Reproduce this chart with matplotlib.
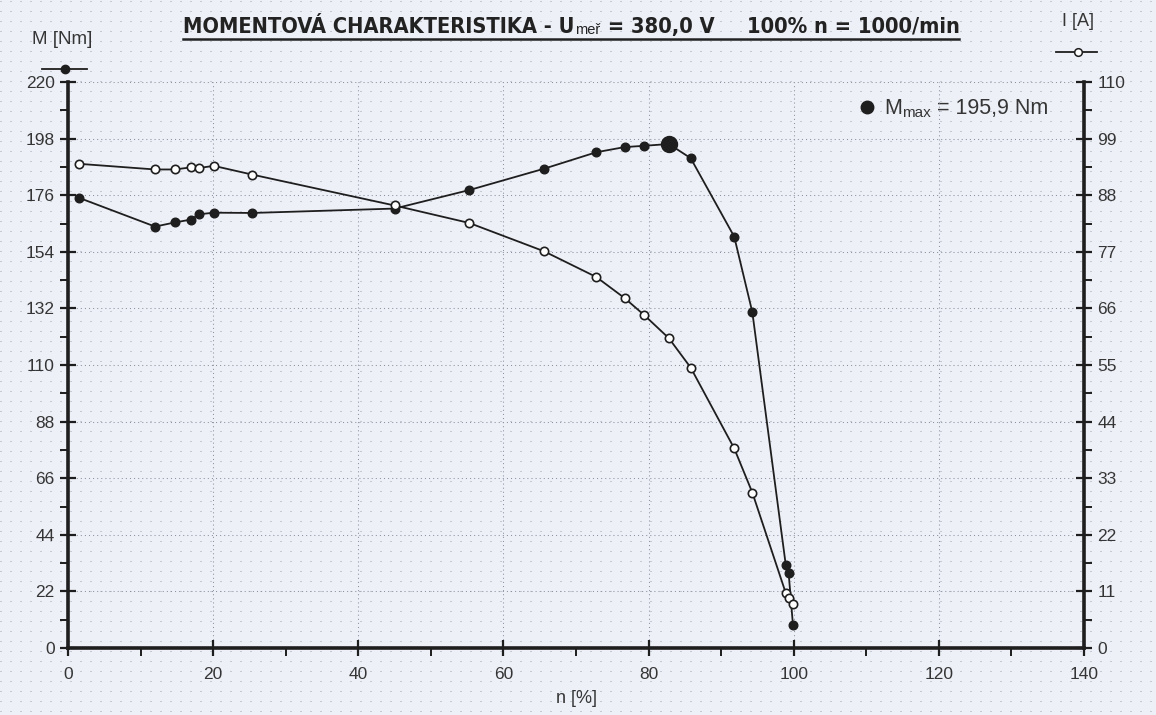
import matplotlib
matplotlib.use('Agg')
import matplotlib.pyplot as plt
from matplotlib import font_manager as fm
from matplotlib.ticker import MultipleLocator, FixedLocator
import numpy as np

# ---------------- data ----------------
n_pct = [1.5, 12.0, 14.7, 16.9, 18.1, 20.1, 25.4, 45.0, 55.3, 65.6,
         72.8, 76.7, 79.4, 82.8, 85.8, 91.8, 94.3, 98.9, 99.3, 99.9]
torque_nm = [175.0, 163.8, 165.4, 166.5, 168.6, 169.2, 169.1, 170.8, 178.0, 186.3,
             192.7, 194.7, 195.2, 195.9, 190.4, 159.9, 130.5, 32.4, 29.1, 8.8]
current_a = [94.1, 93.0, 93.0, 93.4, 93.3, 93.7, 92.0, 86.0, 82.6, 77.1,
             72.1, 68.0, 64.7, 60.2, 54.5, 38.8, 30.2, 10.7, 9.8, 8.6]
m_max_n = 82.8
m_max_val = 195.9

x_ticks = [0, 20, 40, 60, 80, 100, 120, 140]
m_ticks = [0, 22, 44, 66, 88, 110, 132, 154, 176, 198, 220]
i_ticks = [0, 11, 22, 33, 44, 55, 66, 77, 88, 99, 110]

# ---------------- fonts ----------------
avail = {f.name for f in fm.fontManager.ttflist}
base_font = 'Liberation Sans' if 'Liberation Sans' in avail else 'DejaVu Sans'
plt.rcParams['font.family'] = [base_font, 'DejaVu Sans']
plt.rcParams['lines.scale_dashes'] = False


def find_condensed(bold):
    cands = []
    for f in fm.fontManager.ttflist:
        key = (f.name + ' ' + f.fname).lower()
        cond = ('narrow' in key or 'condensed' in key or
                str(f.stretch) in ('condensed', 'semi-condensed', '75', '87'))
        if not cond:
            continue
        w = f.weight if isinstance(f.weight, int) else (700 if 'bold' in str(f.weight) else 400)
        if bold and w < 600:
            continue
        if not bold and w >= 600:
            continue
        if 'italic' in str(f.style) or 'oblique' in str(f.style):
            continue
        cands.append(f)
    if not cands:
        return None
    pref = ['liberation', 'dejavu', 'roboto', 'open', 'noto', 'lato']
    cands.sort(key=lambda f: next((i for i, p in enumerate(pref) if p in f.name.lower()), 99))
    return cands[0].fname


cond_bold = find_condensed(True)

W, H = 1156, 715
BG = '#edf0f7'
INK = '#1e1e1e'
TXT = '#353535'

fig = plt.figure(figsize=(W / 100, H / 100), dpi=100, facecolor=BG)

# dotted paper texture
bg = fig.add_axes([0, 0, 1, 1], zorder=-10)
bg.set_xlim(0, W)
bg.set_ylim(0, H)
bg.axis('off')
bg.set_facecolor(BG)
rows = np.arange(4, H, 10)
bg.hlines(rows, 0, W, colors='#a3a8b6', linewidth=0.75,
          linestyles=[(0, (0.75, 6.45))])

# main axes
px_l, px_r, px_t, px_b = 68, 1084, 82, 648
ax = fig.add_axes([px_l / W, 1 - px_b / H, (px_r - px_l) / W, (px_b - px_t) / H])
ax.set_facecolor('none')
ax2 = ax.twinx()
ax2.set_facecolor('none')

ax.set_xlim(0, 140)
ax.set_ylim(0, 220)
ax2.set_ylim(0, 110)

ax.grid(True, which='major', color='#8c91a0', linewidth=0.75,
        linestyle=(0, (0.75, 2.2)))

ax.plot(n_pct, torque_nm, color=INK, lw=1.3, marker='o', ms=6.2,
        mfc=INK, mec=INK, zorder=4, clip_on=False)
ax.plot([m_max_n], [m_max_val], marker='o', ms=11.5, color=INK, ls='none',
        zorder=5, clip_on=False)
ax2.plot(n_pct, current_a, color=INK, lw=1.3, marker='o', ms=6.0,
         mfc='white', mec=INK, mew=1.2, zorder=4, clip_on=False)

for a in (ax, ax2):
    a.spines['top'].set_visible(False)
ax.spines['right'].set_visible(False)
ax2.spines['left'].set_visible(False)
ax2.spines['bottom'].set_visible(False)
for sp in (ax.spines['left'], ax.spines['bottom'], ax2.spines['right']):
    sp.set_linewidth(2.6)
    sp.set_color(INK)

ax.xaxis.set_major_locator(FixedLocator(x_ticks))
ax.xaxis.set_minor_locator(MultipleLocator(10))
ax.yaxis.set_major_locator(FixedLocator(m_ticks))
ax.yaxis.set_minor_locator(MultipleLocator(11))
ax2.yaxis.set_major_locator(FixedLocator(i_ticks))
ax2.yaxis.set_minor_locator(MultipleLocator(5.5))

ax.tick_params(axis='both', which='major', direction='inout', length=11,
               width=1.6, color=INK, labelsize=12.5, labelcolor=TXT, pad=4)
ax.tick_params(axis='both', which='minor', direction='out', length=6,
               width=1.4, color=INK)
ax2.tick_params(axis='y', which='major', direction='inout', length=11,
                width=1.6, color=INK, labelsize=12.5, labelcolor=TXT, pad=4)
ax2.tick_params(axis='y', which='minor', direction='out', length=6,
                width=1.4, color=INK)
ax.tick_params(axis='x', pad=8)

ax.set_xlabel('n [%]', fontsize=13, color=TXT, labelpad=6)

# axis captions and series symbols
fig.text(62 / W, 1 - 40 / H, 'M [Nm]', fontsize=13.5, color=TXT,
         ha='center', va='center')
fig.text(1078 / W, 1 - 22 / H, 'I [A]', fontsize=13, color=TXT,
         ha='center', va='center')
fig.add_artist(plt.Line2D([42 / W, 87 / W], [1 - 69 / H, 1 - 69 / H],
                          transform=fig.transFigure, color=INK, lw=1.3))
fig.add_artist(plt.Line2D([65 / W], [1 - 69 / H], transform=fig.transFigure,
                          color=INK, marker='o', ms=6, ls='none'))
fig.add_artist(plt.Line2D([1056 / W, 1097 / W], [1 - 52 / H, 1 - 52 / H],
                          transform=fig.transFigure, color=INK, lw=1.3))
fig.add_artist(plt.Line2D([1078 / W], [1 - 52 / H], transform=fig.transFigure,
                          color=INK, marker='o', ms=5.5, mfc='white', mec=INK,
                          mew=1.1, ls='none'))

# Mmax annotation
fig.add_artist(plt.Line2D([867 / W], [1 - 107 / H], transform=fig.transFigure,
                          color=INK, marker='o', ms=9, ls='none'))
t1 = fig.text(884 / W, 1 - 119 / H, 'M', fontsize=15.5, color=TXT, ha='left', va='bottom')
t2 = bg.annotate('max', xy=(1, 0), xycoords=t1, xytext=(0.3, -1.0),
                 textcoords='offset points', fontsize=11, color=TXT,
                 ha='left', va='bottom', annotation_clip=False)
t3 = bg.annotate(' = 195,9 Nm', xy=(1, 0), xycoords=t2, xytext=(0, 1.0),
                 textcoords='offset points', fontsize=15.5, color=TXT,
                 ha='left', va='bottom', annotation_clip=False)

# title
TC = '#222222'
if cond_bold:
    tk = dict(fontproperties=fm.FontProperties(fname=cond_bold, size=15.7), color=TC)
else:
    tk = dict(fontsize=15.5, fontweight='bold', color=TC)
p1 = fig.text(183 / W, 1 - 33 / H, 'MOMENTOVÁ CHARAKTERISTIKA - U', ha='left',
              va='baseline', **tk)
p2 = bg.annotate('meř', xy=(1, 0), xycoords=p1, xytext=(0.5, 0),
                 textcoords='offset points', fontsize=10.5, color=TC,
                 ha='left', va='bottom', annotation_clip=False)
p3 = bg.annotate(' = 380,0 V', xy=(1, 0), xycoords=p2,
                 xytext=(0.5, 0), textcoords='offset points', ha='left', va='bottom',
                 annotation_clip=False, **tk)
p4 = bg.annotate('100% n = 1000/min', xy=(1, 0), xycoords=p3,
                 xytext=(23, 0), textcoords='offset points', ha='left', va='bottom',
                 annotation_clip=False, **tk)

fig.canvas.draw()
r = fig.canvas.get_renderer()
bb1 = p1.get_window_extent(r)
bb4 = p4.get_window_extent(r)
uy = 1 - 38.5 / H
fig.add_artist(plt.Line2D([bb1.x0 / W, bb4.x1 / W], [uy, uy],
                          transform=fig.transFigure, color=TC, lw=1.8))

fig.savefig('out.png', dpi=100, facecolor=BG)
